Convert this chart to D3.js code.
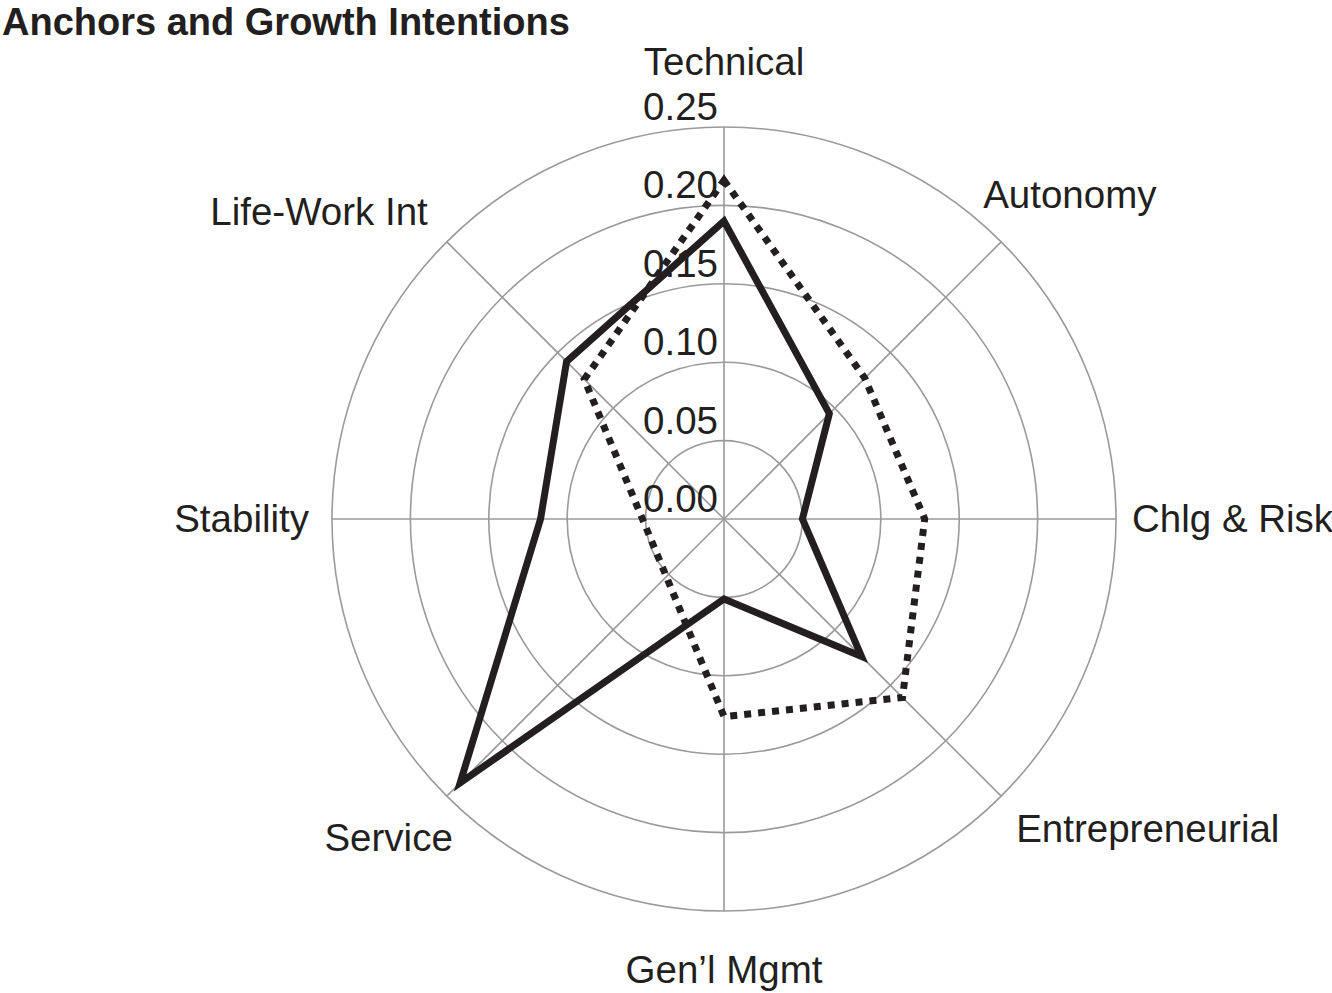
<!DOCTYPE html>
<html>
<head>
<meta charset="utf-8">
<script src="https://cdn.jsdelivr.net/npm/d3@7"></script>
<style>
  html, body { margin: 0; padding: 0; background: #fff; }
  svg { display: block; }
  text { font-family: "Liberation Sans", Arial, Helvetica, sans-serif; fill: #231f20; }
</style>
</head>
<body>
<svg id="chart" width="1332" height="993"></svg>
<script>
// ---- data ----
const title = "Anchors and Growth Intentions";
const categories = ["Technical", "Autonomy", "Chlg & Risk", "Entrepreneurial", "Gen\u2019l Mgmt", "Service", "Stability", "Life-Work Int"];
const anchors = [0.190, 0.095, 0.050, 0.124, 0.051, 0.238, 0.117, 0.142];          // solid line
const growthIntentions = [0.216, 0.127, 0.128, 0.161, 0.126, 0.052, 0.052, 0.126]; // dotted line
const tickValues = [0.00, 0.05, 0.10, 0.15, 0.20, 0.25];
const tickLabels = ["0.00", "0.05", "0.10", "0.15", "0.20", "0.25"];

// ---- layout ----
const cx = 724, cy = 519, R = 392;
const fontSize = 38.5;
const svg = d3.select("#chart");
const r = d3.scaleLinear().domain([0, 0.25]).range([0, R]);
const ang = d3.scaleLinear().domain([0, categories.length]).range([0, 2 * Math.PI]);
const gridColor = "#9a9a9a";

const g = svg.append("g").attr("transform", `translate(${cx},${cy})`);

// rings
g.selectAll("circle.ring").data(tickValues.filter(v => v > 0)).join("circle")
  .attr("class", "ring").attr("r", d => r(d))
  .attr("fill", "none").attr("stroke", gridColor).attr("stroke-width", 1.6);

// spokes
g.selectAll("line.spoke").data(categories).join("line")
  .attr("class", "spoke")
  .attr("x1", 0).attr("y1", 0)
  .attr("x2", (d, i) => R * Math.sin(ang(i)))
  .attr("y2", (d, i) => -R * Math.cos(ang(i)))
  .attr("stroke", gridColor).attr("stroke-width", 1.6);

// tick labels
g.selectAll("text.tick").data(tickValues).join("text")
  .attr("class", "tick")
  .attr("x", -6).attr("y", d => -r(d) - 7)
  .attr("text-anchor", "end").attr("font-size", fontSize)
  .text((d, i) => tickLabels[i]);

// series
const radial = d3.lineRadial()
  .angle((d, i) => ang(i))
  .radius(d => r(d))
  .curve(d3.curveLinearClosed);

g.append("path").datum(growthIntentions)
  .attr("d", radial).attr("fill", "none")
  .attr("stroke", "#231f20").attr("stroke-width", 7)
  .attr("stroke-dasharray", "7,7").attr("stroke-linecap", "butt");

g.append("path").datum(anchors)
  .attr("d", radial).attr("fill", "none")
  .attr("stroke", "#231f20").attr("stroke-width", 7)
  .attr("stroke-linejoin", "miter").attr("stroke-miterlimit", 10);

// category labels
const labelNudge = [[0, 0], [-18, -9], [-2, 0], [15, -6], [0, 0], [6, 3], [-5, 0], [-19, 8]];
g.selectAll("text.cat").data(categories).join("text")
  .attr("class", "cat").attr("font-size", fontSize)
  .each(function (d, i) {
    const s = Math.sin(ang(i)), c = Math.cos(ang(i));
    let x, y, anchor;
    if (Math.abs(s) < 0.01) {
      anchor = "middle"; x = 0;
      y = c > 0 ? -R - 52 : R + 72;
    } else if (Math.abs(c) < 0.01) {
      anchor = s > 0 ? "start" : "end";
      x = s > 0 ? R + 18 : -R - 18; y = 13;
    } else {
      anchor = s > 0 ? "start" : "end";
      x = R * s;
      y = c > 0 ? -R * c - 25 : -R * c + 52;
    }
    d3.select(this).attr("x", x + labelNudge[i][0]).attr("y", y + labelNudge[i][1])
      .attr("text-anchor", anchor).text(d);
  });

// title
svg.append("text").attr("x", 2).attr("y", 35)
  .attr("font-size", 38).attr("font-weight", "bold").text(title);
</script>
</body>
</html>
